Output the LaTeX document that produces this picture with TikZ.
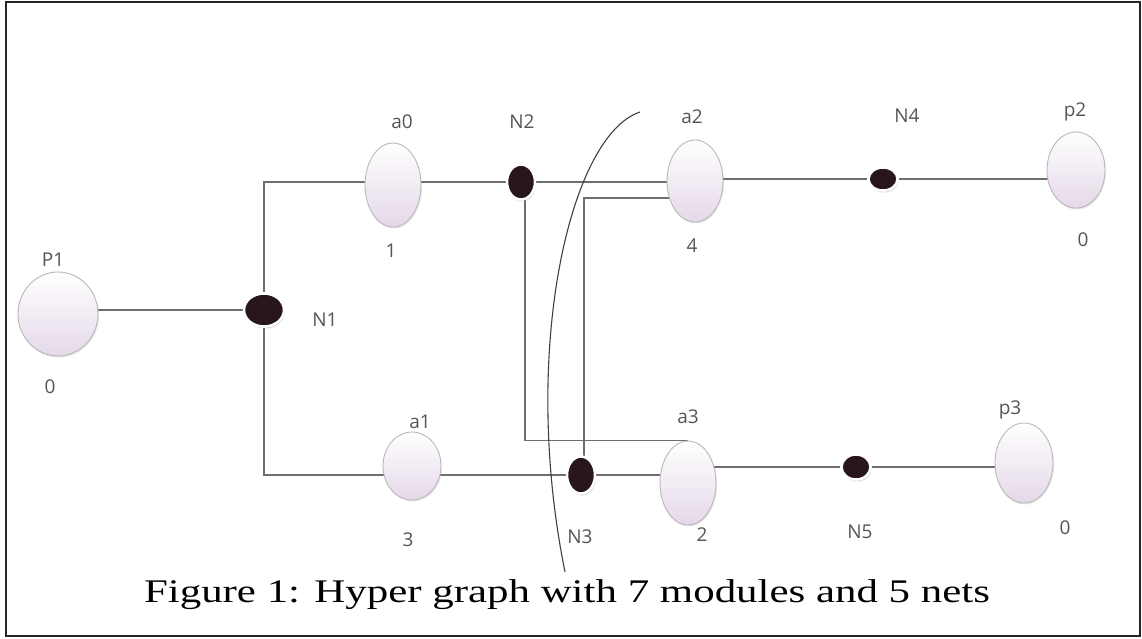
\documentclass[tikz,border=0pt]{standalone}
\usepackage{fontspec}
\setmainfont{Liberation Serif}
\newfontfamily\lblfont{Open Sans}
\usetikzlibrary{shapes.geometric,shadows,calc}
\pgfdeclarelayer{back}
\pgfdeclarelayer{bg}
\pgfsetlayers{back,bg,main}
\definecolor{edgegray}{RGB}{110,110,110}
\definecolor{lblgray}{RGB}{85,85,85}
\definecolor{modpink}{RGB}{228,216,232}
\definecolor{netblack}{RGB}{40,22,26}
\tikzset{
  module/.style={ellipse, inner sep=0pt, draw=gray!55, line width=0.9pt,
    top color=white, bottom color=modpink,
    drop shadow={opacity=0.18, shadow xshift=1pt, shadow yshift=-1.5pt}},
  netdot/.style={ellipse, inner sep=0pt, fill=netblack, draw=white, line width=2.5pt,
    drop shadow={opacity=0.3, shadow xshift=1pt, shadow yshift=-2pt}},
  lbl/.style={font=\lblfont\fontsize{19}{19}\selectfont, text=lblgray, inner sep=0pt},
  wire/.style={draw=edgegray, line width=1.5pt},
}
\begin{document}
\begin{tikzpicture}[x=1pt,y=-1pt]
\useasboundingbox (0,0) rectangle (1142,638);
\begin{pgfonlayer}{back}
\fill[white] (0,0) rectangle (1142,638);
\end{pgfonlayer}
\draw[line width=2.2pt, black!85] (6,2) rectangle (1140,636);

% modules
\node[module, minimum width=80pt, minimum height=84pt] (P1) at (58,314) {};
\node[module, minimum width=56pt, minimum height=84pt] (a0) at (393,185) {};
\node[module, minimum width=58pt, minimum height=68pt] (a1) at (412,466) {};
\node[module, minimum width=56pt, minimum height=82pt] (a2) at (695,181) {};
\node[module, minimum width=56pt, minimum height=84pt] (a3) at (688,483) {};
\node[module, minimum width=58pt, minimum height=76pt] (p2) at (1076,170) {};
\node[module, minimum width=58pt, minimum height=80pt] (p3) at (1024,463) {};

% nets
\node[netdot, minimum width=40pt, minimum height=33pt] (N1) at (264,310) {};
\node[netdot, minimum width=28pt, minimum height=35pt] (N2) at (521,182) {};
\node[netdot, minimum width=28pt, minimum height=37pt] (N3) at (581,475) {};
\node[netdot, minimum width=29pt, minimum height=23pt] (N4) at (883,179) {};
\node[netdot, minimum width=29pt, minimum height=25pt] (N5) at (856,467) {};

% wires
\begin{pgfonlayer}{bg}
\draw[wire] (N1 -| P1.center) -- (N1);
\draw[wire] (N1) |- (N2);
\draw[wire] (N1) |- (N3);
\draw[wire] (N2) -- (N2 -| a2.center);
\draw[wire] (N4 -| a2.center) -- (N4);
\draw[wire] (N4) -- (N4 -| p2.center);
\draw[wire] (N3) -- (N3 -| a3.center);
\draw[wire] (N5 -| a3.center) -- (N5);
\draw[wire] (N5) -- (N5 -| p3.center);
\draw[wire] ([xshift=4pt]N2.center) |- (a3.north);
\draw[wire] ([yshift=-17pt]a2.center) -| ([xshift=3pt]N3.center);
\end{pgfonlayer}

% cut line
\coordinate (cutA) at (640,112);
\coordinate (cutB) at (565,572);
\draw[line width=1.1pt, black!75] (cutA) .. controls (570,135) and (520,350) .. (cutB);

% labels
\node[lbl] (tP1) at (53,260) {P1};
\node[lbl] (wP1) at (50,387) {0};
\node[lbl] (ta0) at (402,122) {a0};
\node[lbl] (wa0) at (391,251) {1};
\node[lbl] (tN2) at (522,122) {N2};
\node[lbl] (ta2) at (692,117) {a2};
\node[lbl] (wa2) at (692,246) {4};
\node[lbl] (tN4) at (907,116) {N4};
\node[lbl] (tp2) at (1075,112) {p2};
\node[lbl] (wp2) at (1083,240) {0};
\node[lbl] (tN1) at (325,320) {N1};
\node[lbl] (ta1) at (420,422) {a1};
\node[lbl] (wa1) at (408,540) {3};
\node[lbl] (tN3) at (580,537) {N3};
\node[lbl] (ta3) at (688,417) {a3};
\node[lbl] (wa3) at (702,535) {2};
\node[lbl] (tN5) at (860,532) {N5};
\node[lbl] (tp3) at (1010,410) {p3};
\node[lbl] (wp3) at (1065,528) {0};

% caption
\node[anchor=base, inner sep=0pt, xscale=1.3, font=\fontsize{33}{33}\selectfont] (cap) at (567,602) {Figure 1: Hyper graph with 7 modules and 5 nets};
\end{tikzpicture}
\end{document}
